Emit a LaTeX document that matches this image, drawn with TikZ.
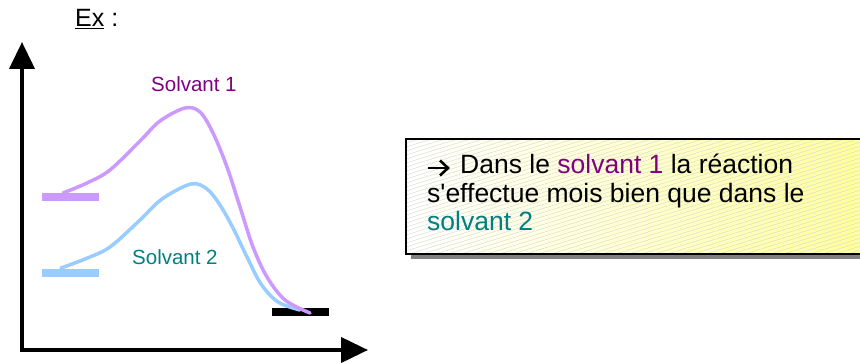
\documentclass[tikz,border=0pt]{standalone}
\usepackage{fontspec}
\setmainfont{Liberation Sans}
\newfontfamily\rawfont{Liberation Sans}
\usetikzlibrary{arrows.meta}
\definecolor{violetc}{HTML}{CC99FF}
\definecolor{bluec}{HTML}{99CCFF}
\definecolor{purplet}{HTML}{800080}
\definecolor{tealt}{HTML}{008080}
\definecolor{boxyellow}{RGB}{255,255,150}
\tikzset{
  axis/.style={line width=4pt, -{Triangle[length=27pt,width=25pt]}},
  bar/.style={line width=8pt},
  curve/.style={line width=3.5pt, line cap=round},
  lbl/.style={anchor=base west, inner sep=0pt, font=\fontsize{20.5}{24}\selectfont},
  boxtxt/.style={anchor=base west, inner sep=0pt, font=\fontsize{26.5}{30}\selectfont},
  txtarrow/.style={line width=2.6pt}
}
\begin{document}
\begin{tikzpicture}[x=1pt,y=-1pt]
\useasboundingbox (0,0) rectangle (860,363);
\clip (0,0) rectangle (860,363);
% axes
\coordinate (ytip) at (22,42);
\coordinate (xtip) at (368,350);
\draw[axis] (22,352) -- (ytip);
\draw[axis] (20,350) -- (xtip);
% levels
\draw[bar, violetc] (42,197) -- (99,197);
\draw[bar, bluec] (42,273) -- (99,273);
\draw[bar, black] (272,312) -- (329,312);
% curves
\draw[curve, bluec] plot[smooth, tension=0.55] coordinates {(61,268) (85,259) (110,247) (140,220) (162,199) (191,184) (207,189) (220,205) (233,228) (247,257) (261,284) (278,302) (300,310)};
\draw[curve, violetc] plot[smooth, tension=0.55] coordinates {(63,193) (87,183) (110,170) (140,141) (160,121) (185,108) (200,112) (213,133) (227,167) (240,207) (253,247) (267,277) (285,300) (310,313)};
% labels
\node[lbl, text=purplet] (s1) at (151,92) {Solvant 1};
\node[lbl, text=tealt] (s2) at (132,265) {Solvant 2};
\node[anchor=base west, inner sep=0pt, font=\fontsize{25}{30}\selectfont] (ex) at (75,27) {\underline{Ex} :};
% box
\fill[black!50] (411,144) rectangle (890,259);
\shade[left color=white, right color=boxyellow] (406,139) rectangle (890,254);
\begin{scope}
\clip (406,139) rectangle (890,254);
\foreach \i in {0,4,...,300} {
  \draw[black!16, line width=0.4pt] (406,139+\i) -- (890,139+\i-150);
}
\end{scope}
\draw[line width=1.5pt] (406,139) rectangle (890,254);
% text arrow
\draw[txtarrow] (428,168) -- (447,168);
\draw[txtarrow, line join=miter] (440,160.5) -- (448,168) -- (440,175.5);
\node[boxtxt] (l1) at (460,174) {Dans le \textcolor{purplet}{solvant 1} la réaction};
\node[boxtxt] (l2) at (427,203) {s{\rawfont'}effectue mois bien que dans le};
\node[boxtxt, text=tealt] (l3) at (427,231) {solvant 2};
\end{tikzpicture}
\end{document}
